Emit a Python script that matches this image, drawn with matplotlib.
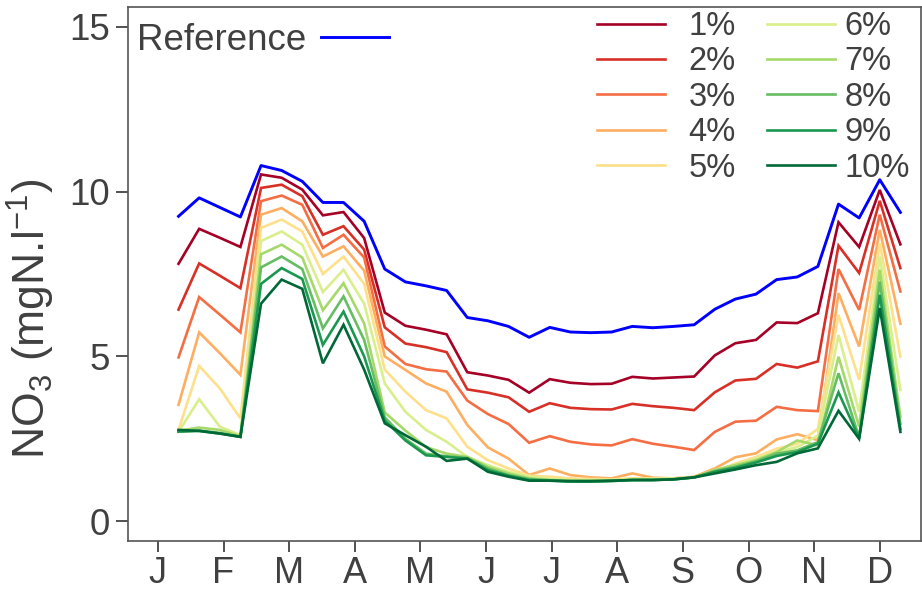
import matplotlib
matplotlib.use("Agg")
import matplotlib.pyplot as plt
import numpy as np

plt.rcParams['font.family'] = ['Liberation Sans', 'DejaVu Sans']
plt.rcParams['mathtext.fontset'] = 'custom'
plt.rcParams['mathtext.rm'] = 'Liberation Sans'
plt.rcParams['mathtext.it'] = 'Liberation Sans'

months = ['J', 'F', 'M', 'A', 'M', 'J', 'J', 'A', 'S', 'O', 'N', 'D']
labels = ['1%', '2%', '3%', '4%', '5%', '6%', '7%', '8%', '9%', '10%']
colors = ['#a50026', '#d73027', '#f46d43', '#fdae61', '#fee08b',
          '#d9ef8b', '#a6d96a', '#66bd63', '#1a9850', '#006837']

reference = [9.25, 9.81, 9.52, 9.23, 10.79, 10.64, 10.31, 9.67, 9.67, 9.10, 7.65, 7.26,
             7.14, 7.00, 6.18, 6.08, 5.91, 5.58, 5.88, 5.74, 5.72, 5.74, 5.91, 5.87,
             5.91, 5.96, 6.43, 6.74, 6.89, 7.33, 7.41, 7.73, 9.62, 9.20, 10.36, 9.37]
p1 = [7.81, 8.87, 8.60, 8.32, 10.52, 10.42, 10.06, 9.28, 9.38, 8.59, 6.33, 5.93,
      5.81, 5.67, 4.52, 4.42, 4.29, 3.90, 4.31, 4.20, 4.16, 4.17, 4.38, 4.33,
      4.36, 4.39, 5.03, 5.40, 5.50, 6.03, 6.01, 6.31, 9.07, 8.32, 10.05, 8.40]
p2 = [6.42, 7.82, 7.45, 7.07, 10.11, 10.21, 9.86, 8.69, 8.95, 8.24, 5.88, 5.39,
      5.28, 5.13, 4.00, 3.90, 3.76, 3.32, 3.58, 3.44, 3.40, 3.39, 3.56, 3.49,
      3.44, 3.37, 3.91, 4.27, 4.32, 4.77, 4.66, 4.85, 8.36, 7.53, 9.72, 7.68]
p3 = [4.97, 6.80, 6.27, 5.73, 9.71, 9.88, 9.60, 8.29, 8.69, 8.00, 5.30, 4.77,
      4.61, 4.54, 3.66, 3.25, 2.95, 2.38, 2.58, 2.41, 2.33, 2.30, 2.49, 2.35,
      2.26, 2.16, 2.71, 3.02, 3.05, 3.47, 3.37, 3.34, 7.65, 6.41, 9.30, 6.97]
p4 = [3.53, 5.73, 5.10, 4.44, 9.30, 9.50, 9.10, 8.03, 8.34, 7.60, 5.00, 4.59,
      4.18, 3.93, 2.92, 2.24, 1.90, 1.40, 1.60, 1.40, 1.33, 1.30, 1.45, 1.32,
      1.30, 1.35, 1.60, 1.94, 2.06, 2.48, 2.64, 2.46, 6.92, 5.30, 8.84, 5.99]
p5 = [2.77, 4.71, 4.03, 3.12, 8.90, 9.15, 8.79, 7.50, 8.03, 7.20, 4.60, 3.93,
      3.37, 3.12, 2.26, 1.85, 1.60, 1.38, 1.35, 1.30, 1.28, 1.27, 1.30, 1.30,
      1.30, 1.33, 1.50, 1.75, 1.95, 2.20, 2.35, 2.80, 6.26, 4.29, 8.44, 4.99]
p6 = [2.71, 3.70, 2.87, 2.61, 8.50, 8.79, 8.39, 6.95, 7.63, 6.60, 4.18, 3.32,
      2.77, 2.41, 1.95, 1.70, 1.50, 1.35, 1.28, 1.25, 1.25, 1.25, 1.28, 1.28,
      1.30, 1.33, 1.55, 1.72, 1.90, 2.10, 2.25, 2.60, 5.65, 3.32, 8.03, 3.98]
p7 = [2.75, 2.84, 2.77, 2.58, 8.10, 8.39, 8.00, 6.40, 7.22, 6.00, 3.30, 2.75,
      2.25, 2.05, 1.95, 1.65, 1.45, 1.30, 1.25, 1.22, 1.22, 1.23, 1.25, 1.26,
      1.28, 1.33, 1.55, 1.70, 1.85, 2.10, 2.45, 2.30, 4.99, 2.87, 7.63, 3.17]
p8 = [2.72, 2.75, 2.68, 2.56, 7.70, 8.03, 7.65, 5.85, 6.82, 5.50, 3.15, 2.50,
      2.05, 1.97, 1.92, 1.60, 1.40, 1.28, 1.24, 1.21, 1.21, 1.22, 1.25, 1.25,
      1.27, 1.33, 1.52, 1.65, 1.82, 2.05, 2.15, 2.40, 4.49, 2.55, 7.27, 2.95]
p9 = [2.72, 2.74, 2.66, 2.56, 7.20, 7.68, 7.35, 5.35, 6.36, 5.00, 3.05, 2.45,
      2.00, 1.95, 1.90, 1.55, 1.38, 1.25, 1.23, 1.20, 1.20, 1.22, 1.25, 1.25,
      1.27, 1.33, 1.50, 1.62, 1.78, 1.98, 2.10, 2.35, 3.91, 2.52, 6.87, 2.80]
p10 = [2.77, 2.74, 2.66, 2.56, 6.60, 7.33, 7.05, 4.79, 5.96, 4.60, 2.97, 2.61,
       2.26, 1.83, 1.90, 1.50, 1.35, 1.23, 1.23, 1.22, 1.22, 1.23, 1.25, 1.25,
       1.27, 1.33, 1.45, 1.57, 1.70, 1.80, 2.06, 2.21, 3.35, 2.50, 6.47, 2.71]
series = [p1, p2, p3, p4, p5, p6, p7, p8, p9, p10]

dekads = np.arange(1, 37)
tick_pos = np.linspace(0, 35, 12)

TXT = '#404040'
W, H = 922, 591
fig = plt.figure(figsize=(W / 100, H / 100), dpi=100)
ax = fig.add_axes([128 / W, 1 - 541 / H, (921 - 128) / W, (541 - 7) / H])

for s, c, lab in zip(series, colors, labels):
    ax.plot(dekads, s, color=c, lw=1.9, label=lab, solid_joinstyle='miter')
ref_line, = ax.plot(dekads, reference, color='#0000ff', lw=2.1, label='Reference')

ax.set_xlim(-1.45, 37.0)
ax.set_ylim(-0.6, 15.6)
ax.set_xticks(tick_pos)
ax.set_xticklabels(months)
ax.set_yticks([0, 5, 10, 15])

for sp in ['left', 'bottom', 'top', 'right']:
    ax.spines[sp].set_color('#555555')
    ax.spines[sp].set_linewidth(1.2)
ax.tick_params(axis='both', colors='#333333', labelcolor=TXT,
               width=1.2, direction='out')
ax.tick_params(axis='x', length=8, pad=2.5, labelsize=26)
ax.tick_params(axis='y', length=9, pad=4, labelsize=26.5)

ax.set_ylabel('NO$_3$ (mgN.l$^{-1}$)', fontsize=32, color=TXT)
ax.yaxis.set_label_coords(-0.09, 0.415)

handles = ax.get_lines()[:10]
common = dict(loc='upper left', frameon=False, fontsize=23.5, handlelength=2.08,
              labelspacing=0.135, borderpad=0, borderaxespad=0)
legA = fig.legend(handles[:5], labels[:5], bbox_to_anchor=(597 / W, 1 - 11 / H),
                  handletextpad=0.72, **common)
legB = fig.legend(handles[5:], labels[5:], bbox_to_anchor=(767 / W, 1 - 11 / H),
                  handletextpad=0.3, **common)
for lg in (legA, legB):
    for t in lg.get_texts():
        t.set_color(TXT)

leg1 = fig.legend([ref_line], ['Reference'], loc='upper left',
                  bbox_to_anchor=(137 / W, 1 - 23 / H), frameon=False,
                  fontsize=26.5, handlelength=1.85, handletextpad=0.4,
                  markerfirst=False, borderpad=0, borderaxespad=0)
for t in leg1.get_texts():
    t.set_color(TXT)

fig.savefig('out.png', dpi=100)
